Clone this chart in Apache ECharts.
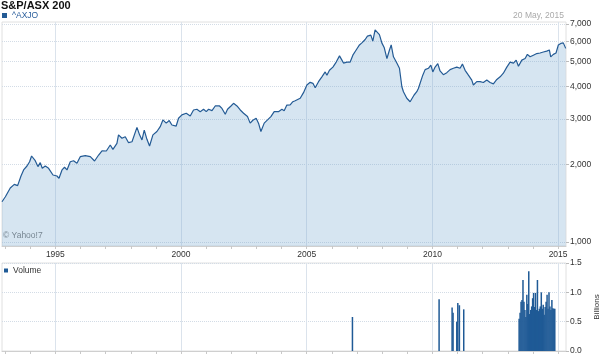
<!DOCTYPE html>
<html><head><meta charset="utf-8">
<script src="https://cdn.jsdelivr.net/npm/echarts@6/dist/echarts.min.js"></script>
<style>html,body{margin:0;padding:0;background:#fff}#c{width:600px;height:356px}</style>
</head><body><div id="c"></div>
<script>
const priceDates = [
'1992-11-17','1993-01-05','1993-03-17','1993-05-15','1993-07-02','1993-08-20','1993-09-27','1993-11-15','1993-12-23','1994-01-21',
'1994-03-15','1994-04-23','1994-05-27','1994-06-25','1994-08-08','1994-09-25','1994-11-28','1995-01-25','1995-02-23','1995-04-08',
'1995-05-15','1995-06-19','1995-08-06','1995-09-23','1995-11-11','1995-12-29','1996-03-11','1996-05-23','1996-07-24','1996-09-21',
'1996-11-09','1997-01-11','1997-03-09','1997-04-17','1997-06-14','1997-07-07','1997-08-26','1997-10-13','1997-11-30','1998-01-19',
'1998-04-01','1998-05-09','1998-06-13','1998-07-16','1998-08-24','1998-10-01','1998-11-19','1999-01-16','1999-03-05','1999-04-13',
'1999-05-31','1999-07-14','1999-08-22','1999-09-14','1999-10-23','1999-11-26','2000-01-14','2000-03-17','2000-05-14','2000-07-01',
'2000-08-19','2000-10-06','2000-11-24','2001-01-02','2001-02-05','2001-03-26','2001-05-12','2001-07-14','2001-08-18','2001-10-05',
'2001-11-07','2001-12-27','2002-02-02','2002-03-24','2002-05-11','2002-06-28','2002-08-24','2002-10-02','2002-11-10','2002-12-28',
'2003-01-31','2003-03-07','2003-04-24','2003-06-11','2003-07-30','2003-09-16','2003-11-17','2004-01-06','2004-02-08','2004-03-18',
'2004-05-05','2004-06-13','2004-07-17','2004-08-11','2004-09-28','2004-11-15','2005-01-03','2005-02-20','2005-04-01','2005-05-04',
'2005-06-21','2005-08-09','2005-09-26','2005-10-21','2005-11-27','2006-01-16','2006-03-05','2006-04-22','2006-05-27','2006-06-19',
'2006-08-07','2006-09-24','2006-11-02','2006-12-20','2007-02-06','2007-03-13','2007-04-30','2007-06-02','2007-07-21','2007-08-19',
'2007-09-21','2007-10-16','2007-11-23','2007-12-28','2008-01-31','2008-03-11','2008-04-17','2008-05-12','2008-06-14','2008-08-02',
'2008-09-09','2008-10-14','2008-11-06','2008-12-25','2009-02-11','2009-03-12','2009-04-10','2009-05-19','2009-06-11','2009-07-06',
'2009-08-14','2009-09-17','2009-11-04','2009-12-09','2010-01-07','2010-02-09','2010-03-20','2010-04-22','2010-06-09','2010-07-29',
'2010-09-15','2010-11-02','2010-12-21','2011-01-14','2011-02-07','2011-03-13','2011-04-21','2011-06-08','2011-07-27','2011-08-19',
'2011-10-08','2011-11-25','2012-01-11','2012-03-01','2012-04-18','2012-06-05','2012-07-25','2012-09-11','2012-10-28','2012-12-17',
'2013-02-03','2013-03-24','2013-05-02','2013-06-04','2013-07-23','2013-09-09','2013-10-12','2013-11-20','2014-01-07','2014-02-25',
'2014-04-14','2014-06-01','2014-07-20','2014-08-27','2014-09-16','2014-10-24','2014-12-02','2015-01-05','2015-02-09','2015-03-18',
'2015-04-22'
];
const priceValues = [
1432,1498,1620,1673,1653,1802,1902,1970,2047,2154,
2065,1960,2030,1930,1970,1930,1818,1802,1765,1902,
1948,1902,2047,2065,2018,2141,2160,2141,2060,2173,
2257,2252,2376,2286,2412,2601,2523,2559,2426,2447,
2782,2601,2485,2715,2500,2355,2601,2680,2798,2972,
2888,2955,2840,2888,2814,3017,3108,3155,3079,3248,
3268,3200,3268,3200,3268,3228,3366,3366,3293,3127,
3268,3366,3447,3366,3248,3155,3062,2888,2964,3017,
2888,2680,2888,2972,3062,3200,3200,3268,3228,3394,
3400,3496,3527,3477,3606,3790,4058,4156,4119,3958,
4181,4366,4560,4430,4627,4762,4980,5263,5068,4935,
4980,4980,5296,5548,5802,5910,6091,6275,6330,6000,
6640,6745,6365,5910,5675,5140,5548,5802,5219,4935,
4712,3995,3822,3606,3496,3447,3712,3822,3934,3881,
4430,4655,4712,4845,4560,4762,4910,4600,4450,4530,
4655,4712,4762,4845,4712,4890,4627,4430,4240,4058,
4181,4181,4150,4240,4150,4100,4264,4366,4510,4762,
4980,4935,5068,4795,5068,5140,5335,5219,5296,5372,
5400,5448,5492,5548,5219,5335,5400,5802,5880,5910,
5627
];
const volumeDates = [
'2006-10-27','2010-04-08','2010-10-14','2010-10-28','2010-12-21','2011-01-05','2011-01-28','2011-04-01',
'2013-06-14','2013-06-28','2013-07-12','2013-07-26','2013-08-09','2013-08-23','2013-09-06','2013-09-20','2013-10-04','2013-10-18',
'2013-11-01','2013-11-15','2013-11-29','2013-12-13','2013-12-27','2014-01-10','2014-01-24','2014-02-07','2014-02-21','2014-03-07',
'2014-03-21','2014-04-04','2014-04-18','2014-05-02','2014-05-16','2014-05-30','2014-06-13','2014-06-27','2014-07-11','2014-07-25',
'2014-08-08','2014-08-22','2014-09-05','2014-09-19','2014-10-03','2014-10-17','2014-10-31','2014-11-14'
];
const volumeValues = [
0.58,0.88,0.74,0.65,0.50,0.82,0.78,0.71,
0.55,0.65,0.84,0.87,1.21,0.84,0.70,0.58,0.96,0.80,
1.36,0.63,0.70,0.76,0.90,0.99,0.75,0.99,0.70,1.21,
0.68,0.72,0.76,1.00,0.72,0.79,0.62,0.75,0.84,0.96,
0.72,1.00,0.76,0.70,0.87,0.73,0.72,0.72
];
const priceTicks = [1000,2000,3000,4000,5000,6000,7000];
const labelYears = ['1995-01-01','2000-01-01','2005-01-01','2010-01-01','2015-01-01'];
const tickYears = ['1993-01-01','1994-01-01','1995-01-01','1996-01-01','1997-01-01','1998-01-01','1999-01-01','2000-01-01','2001-01-01','2002-01-01','2003-01-01','2004-01-01','2005-01-01','2006-01-01','2007-01-01','2008-01-01','2009-01-01','2010-01-01','2011-01-01','2012-01-01','2013-01-01','2014-01-01','2015-01-01'];
const volumeTicks = [0, 0.5, 1.0, 1.5];

const X_MIN = Date.parse('1992-11-17'), X_MAX = Date.parse('2015-04-26');
const Y_MIN = Math.log10(965), Y_MAX = Math.log10(7120);
const FONT = '"Liberation Sans", Arial, sans-serif';
const LINE_C = '#245b95';
const BAR_C = '#1f5a96';
const GRID_C = '#d3dce6';

const priceData = priceDates.map((d, i) => [Date.parse(d), Math.log10(priceValues[i])]);
const volData = volumeDates.map((d, i) => [Date.parse(d), volumeValues[i]]);
const labelYearVals = labelYears.map(d => Date.parse(d));
const tickYearVals = tickYears.map(d => Date.parse(d));
const fmtPrice = v => Math.round(Math.pow(10, v)).toLocaleString('en-US');

function xAxisMain(gi, labels) {
  return {
    type: 'value', gridIndex: gi, min: X_MIN, max: X_MAX,
    axisLine: {show: true, onZero: false, lineStyle: {color: '#cfcfcf'}},
    axisTick: {show: false, customValues: labelYearVals},
    axisLabel: {show: labels, customValues: labelYearVals, formatter: v => String(new Date(v).getUTCFullYear()), fontSize: 8.5, color: '#333', margin: 4, fontFamily: FONT},
    splitLine: {show: true, lineStyle: {color: '#dbe3ec', width: 1}}
  };
}
function xAxisTicks(gi) {
  return {
    type: 'value', gridIndex: gi, min: X_MIN, max: X_MAX, position: 'bottom',
    axisLine: {show: false, onZero: false},
    axisTick: {show: true, customValues: tickYearVals, length: 3, lineStyle: {color: '#c8c8c8'}},
    axisLabel: {show: false},
    splitLine: {show: false}
  };
}

function renderVolume(params, api) {
  const t = api.value(0), v = api.value(1);
  const top = api.coord([t, v]);
  const base = api.coord([t, 0]);
  const w = 1.5;
  return {type: 'rect', shape: {x: top[0] - w / 2, y: top[1], width: w, height: base[1] - top[1]},
          style: {fill: BAR_C}};
}

const option = {
  animation: false,
  textStyle: {fontFamily: FONT},
  title: [
    {text: 'S&P/ASX 200', left: 1, top: 0, padding: 0, textStyle: {fontSize: 11, fontWeight: 'bold', color: '#111', fontFamily: FONT}},
    {text: '20 May, 2015', right: 36, top: 11, padding: 0, textStyle: {fontSize: 8.5, fontWeight: 'normal', color: '#aaa', fontFamily: FONT}}
  ],
  legend: [
    {data: ['^AXJO'], left: 2, top: 11, padding: 0, icon: 'rect', itemWidth: 5, itemHeight: 5, textStyle: {fontSize: 8.5, color: '#2b5f9c', fontFamily: FONT}},
    {data: [{name: 'Volume', icon: 'rect', itemStyle: {color: BAR_C}}], left: 4, top: 266, padding: 0, itemWidth: 4, itemHeight: 4, textStyle: {fontSize: 8.5, color: '#333', fontFamily: FONT}}
  ],
  graphic: [{type: 'text', left: 3, top: 231, style: {text: '© Yahoo!7', fontSize: 8.5, fill: '#777', fontFamily: FONT}}],
  grid: [
    {left: 2, top: 22, width: 564, height: 224, show: true, borderColor: '#e0e0e0', borderWidth: 1, outerBoundsMode: 'none', containLabel: false},
    {left: 2, top: 263, width: 564, height: 88, show: true, borderColor: '#e0e0e0', borderWidth: 1, outerBoundsMode: 'none', containLabel: false}
  ],
  xAxis: [xAxisMain(0, true), xAxisMain(1, false), xAxisTicks(0), xAxisTicks(1)],
  yAxis: [
    {type: 'value', gridIndex: 0, position: 'right', min: Y_MIN, max: Y_MAX,
     axisLine: {show: false},
     axisTick: {show: true, customValues: priceTicks.map(Math.log10), length: 3, lineStyle: {color: '#bbb'}},
     axisLabel: {customValues: priceTicks.map(Math.log10), formatter: fmtPrice, fontSize: 8.5, color: '#333', margin: 4, fontFamily: FONT},
     splitLine: {show: true, lineStyle: {color: GRID_C, type: 'dotted'}}},
    {type: 'value', gridIndex: 1, position: 'right', min: 0, max: 1.5,
     axisLine: {show: false},
     axisTick: {show: true, customValues: volumeTicks, length: 3, lineStyle: {color: '#bbb'}},
     axisLabel: {customValues: volumeTicks, formatter: v => v.toFixed(1), fontSize: 8.5, color: '#333', margin: 4, fontFamily: FONT},
     splitLine: {show: true, lineStyle: {color: GRID_C, type: 'dotted'}},
     name: 'Billions', nameLocation: 'middle', nameGap: 26, nameRotate: 90,
     nameTextStyle: {fontSize: 8, color: '#333', fontFamily: FONT}}
  ],
  series: [
    {name: '^AXJO', type: 'line', xAxisIndex: 0, yAxisIndex: 0, data: priceData, showSymbol: false,
     itemStyle: {color: LINE_C}, lineStyle: {color: LINE_C, width: 1.2},
     areaStyle: {color: 'rgba(120,170,210,0.3)', opacity: 1, origin: 'start'}},
    {name: 'Volume', type: 'custom', xAxisIndex: 1, yAxisIndex: 1, data: volData,
     encode: {x: 0, y: 1}, renderItem: renderVolume, itemStyle: {color: BAR_C}}
  ]
};
echarts.init(document.getElementById('c'), null, {renderer: 'canvas'}).setOption(option);
</script></body></html>
